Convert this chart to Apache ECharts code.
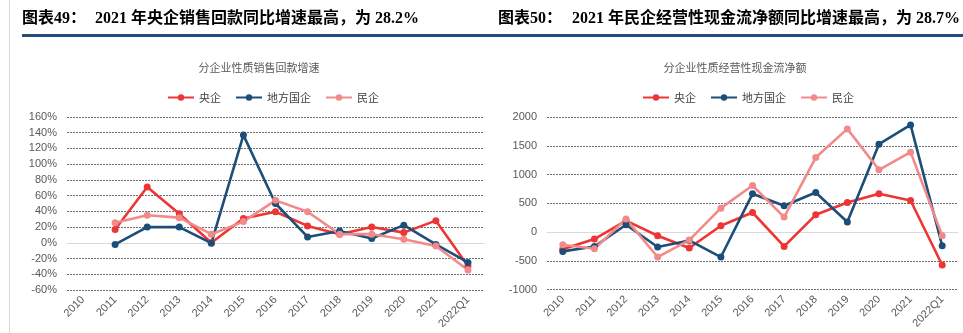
<!DOCTYPE html>
<html><head><meta charset="utf-8">
<script src="https://cdn.jsdelivr.net/npm/echarts@6/dist/echarts.min.js"></script>
<style>html,body{margin:0;padding:0;background:#fff;}#c{width:963px;height:333px;}</style>
</head><body><div id="c"></div>
<script>
const categories = ['2010','2011','2012','2013','2014','2015','2016','2017','2018','2019','2020','2021','2022Q1'];
const seriesNames = ['央企','地方国企','民企'];
// Left: 销售回款增速 (%)
const leftCentral = [null,17,71,37,0,31,39.5,21.5,11,20,13,28.2,-29.5];
const leftLocal   = [null,-2,20,20,-0.5,137,50,7.5,15,5.5,22.5,-2,-25];
const leftPrivate = [null,25.5,35,32,11,27,54,39.5,11,11,4.5,-4,-34.5];
// Right: 经营性现金流净额
const rightCentral = [-300,-122,200,-64,-278,109,340,-250,300,514,665,549,-573];
const rightLocal   = [-336,-250,127,-260,-146,-434,665,457,688,174,1528,1863,-238];
const rightPrivate = [-220,-290,225,-434,-140,416,809,260,1295,1793,1082,1389,-64];
const leftTicks = {min:-60,max:160,interval:20};
const rightTicks = {min:-1000,max:2000,interval:500};

const colors = ['#EE3535','#1D4E78','#F28A8A'];
const chart = echarts.init(document.getElementById('c'));
const labelFont = "'Liberation Sans', Arial, sans-serif";
const cjk = "'Noto Sans CJK SC', sans-serif";
function gridCols(n, zeroIdx){const a=[];for(let i=0;i<n;i++)a.push(i===zeroIdx?'rgba(0,0,0,0)':'#6f6f6f');return a;}
function xAxis(gi){return {type:'category',gridIndex:gi,data:categories,boundaryGap:true,
  axisLine:{onZero:true,lineStyle:{color:'#d9d9d9',width:1}},axisTick:{show:false},
  axisLabel:{rotate:45,color:'#595959',fontSize:11,fontFamily:labelFont,margin:8,interval:0}};}
function yAxis(gi,t,fmt,zeroIdx){const n=Math.round((t.max-t.min)/t.interval)+1;return {type:'value',gridIndex:gi,min:t.min,max:t.max,interval:t.interval,
  axisLine:{show:false},axisTick:{show:false},
  axisLabel:{color:'#595959',fontSize:11,fontFamily:labelFont,margin:10,formatter:fmt},
  splitLine:{lineStyle:{color:gridCols(n,zeroIdx),type:[2,1],width:1}}};}
function ser(name,data,i,gi){return {name:name,type:'line',xAxisIndex:gi,yAxisIndex:gi,data:data,
  symbol:'circle',symbolSize:7,lineStyle:{width:2.6,color:colors[i]},itemStyle:{color:colors[i]},connectNulls:false};}
const legendCommon = {itemWidth:26,itemHeight:8,itemGap:14,textStyle:{fontFamily:cjk,fontSize:11,color:'#404040'}};
const headFont = "bold 16px 'Liberation Serif', 'Noto Sans CJK SC'";
chart.setOption({
  animation:false,
  color:colors,
  grid:[{left:67,top:117,width:417,height:173},{left:547,top:117,width:411,height:172.6}],
  xAxis:[xAxis(0),xAxis(1)],
  yAxis:[yAxis(0,leftTicks,'{value}%',3),yAxis(1,rightTicks,function(v){return String(v);},2)],
  legend:[
    Object.assign({},legendCommon,{left:162,top:87,data:seriesNames.slice()}),
    Object.assign({},legendCommon,{left:637,top:87,data:seriesNames.slice()})
  ],
  series:[
    ser('央企',leftCentral,0,0),ser('地方国企',leftLocal,1,0),ser('民企',leftPrivate,2,0),
    ser('央企',rightCentral,0,1),ser('地方国企',rightLocal,1,1),ser('民企',rightPrivate,2,1)
  ],
  graphic:[
    {type:'line',shape:{x1:9.5,y1:0,x2:9.5,y2:333},style:{stroke:'#d9d9d9',lineWidth:1}},
    {type:'rect',shape:{x:22,y:34,width:941,height:3},style:{fill:'#1F4E79'}},
    {type:'text',x:22,y:19,style:{text:'图表49：',font:headFont,fill:'#000',textVerticalAlign:'middle'}},
    {type:'text',x:95,y:19,style:{text:'2021 年央企销售回款同比增速最高，为 28.2%',font:headFont,fill:'#000',textVerticalAlign:'middle'}},
    {type:'text',x:498,y:19,style:{text:'图表50：',font:headFont,fill:'#000',textVerticalAlign:'middle'}},
    {type:'text',x:572,y:19,style:{text:'2021 年民企经营性现金流净额同比增速最高，为 28.7%',font:headFont,fill:'#000',textVerticalAlign:'middle'}},
    {type:'text',x:259,y:68,style:{text:'分企业性质销售回款增速',font:"11px 'Noto Sans CJK SC'",fill:'#595959',textAlign:'center',textVerticalAlign:'middle'}},
    {type:'text',x:735,y:68,style:{text:'分企业性质经营性现金流净额',font:"11px 'Noto Sans CJK SC'",fill:'#595959',textAlign:'center',textVerticalAlign:'middle'}}
  ]
});
</script></body></html>
